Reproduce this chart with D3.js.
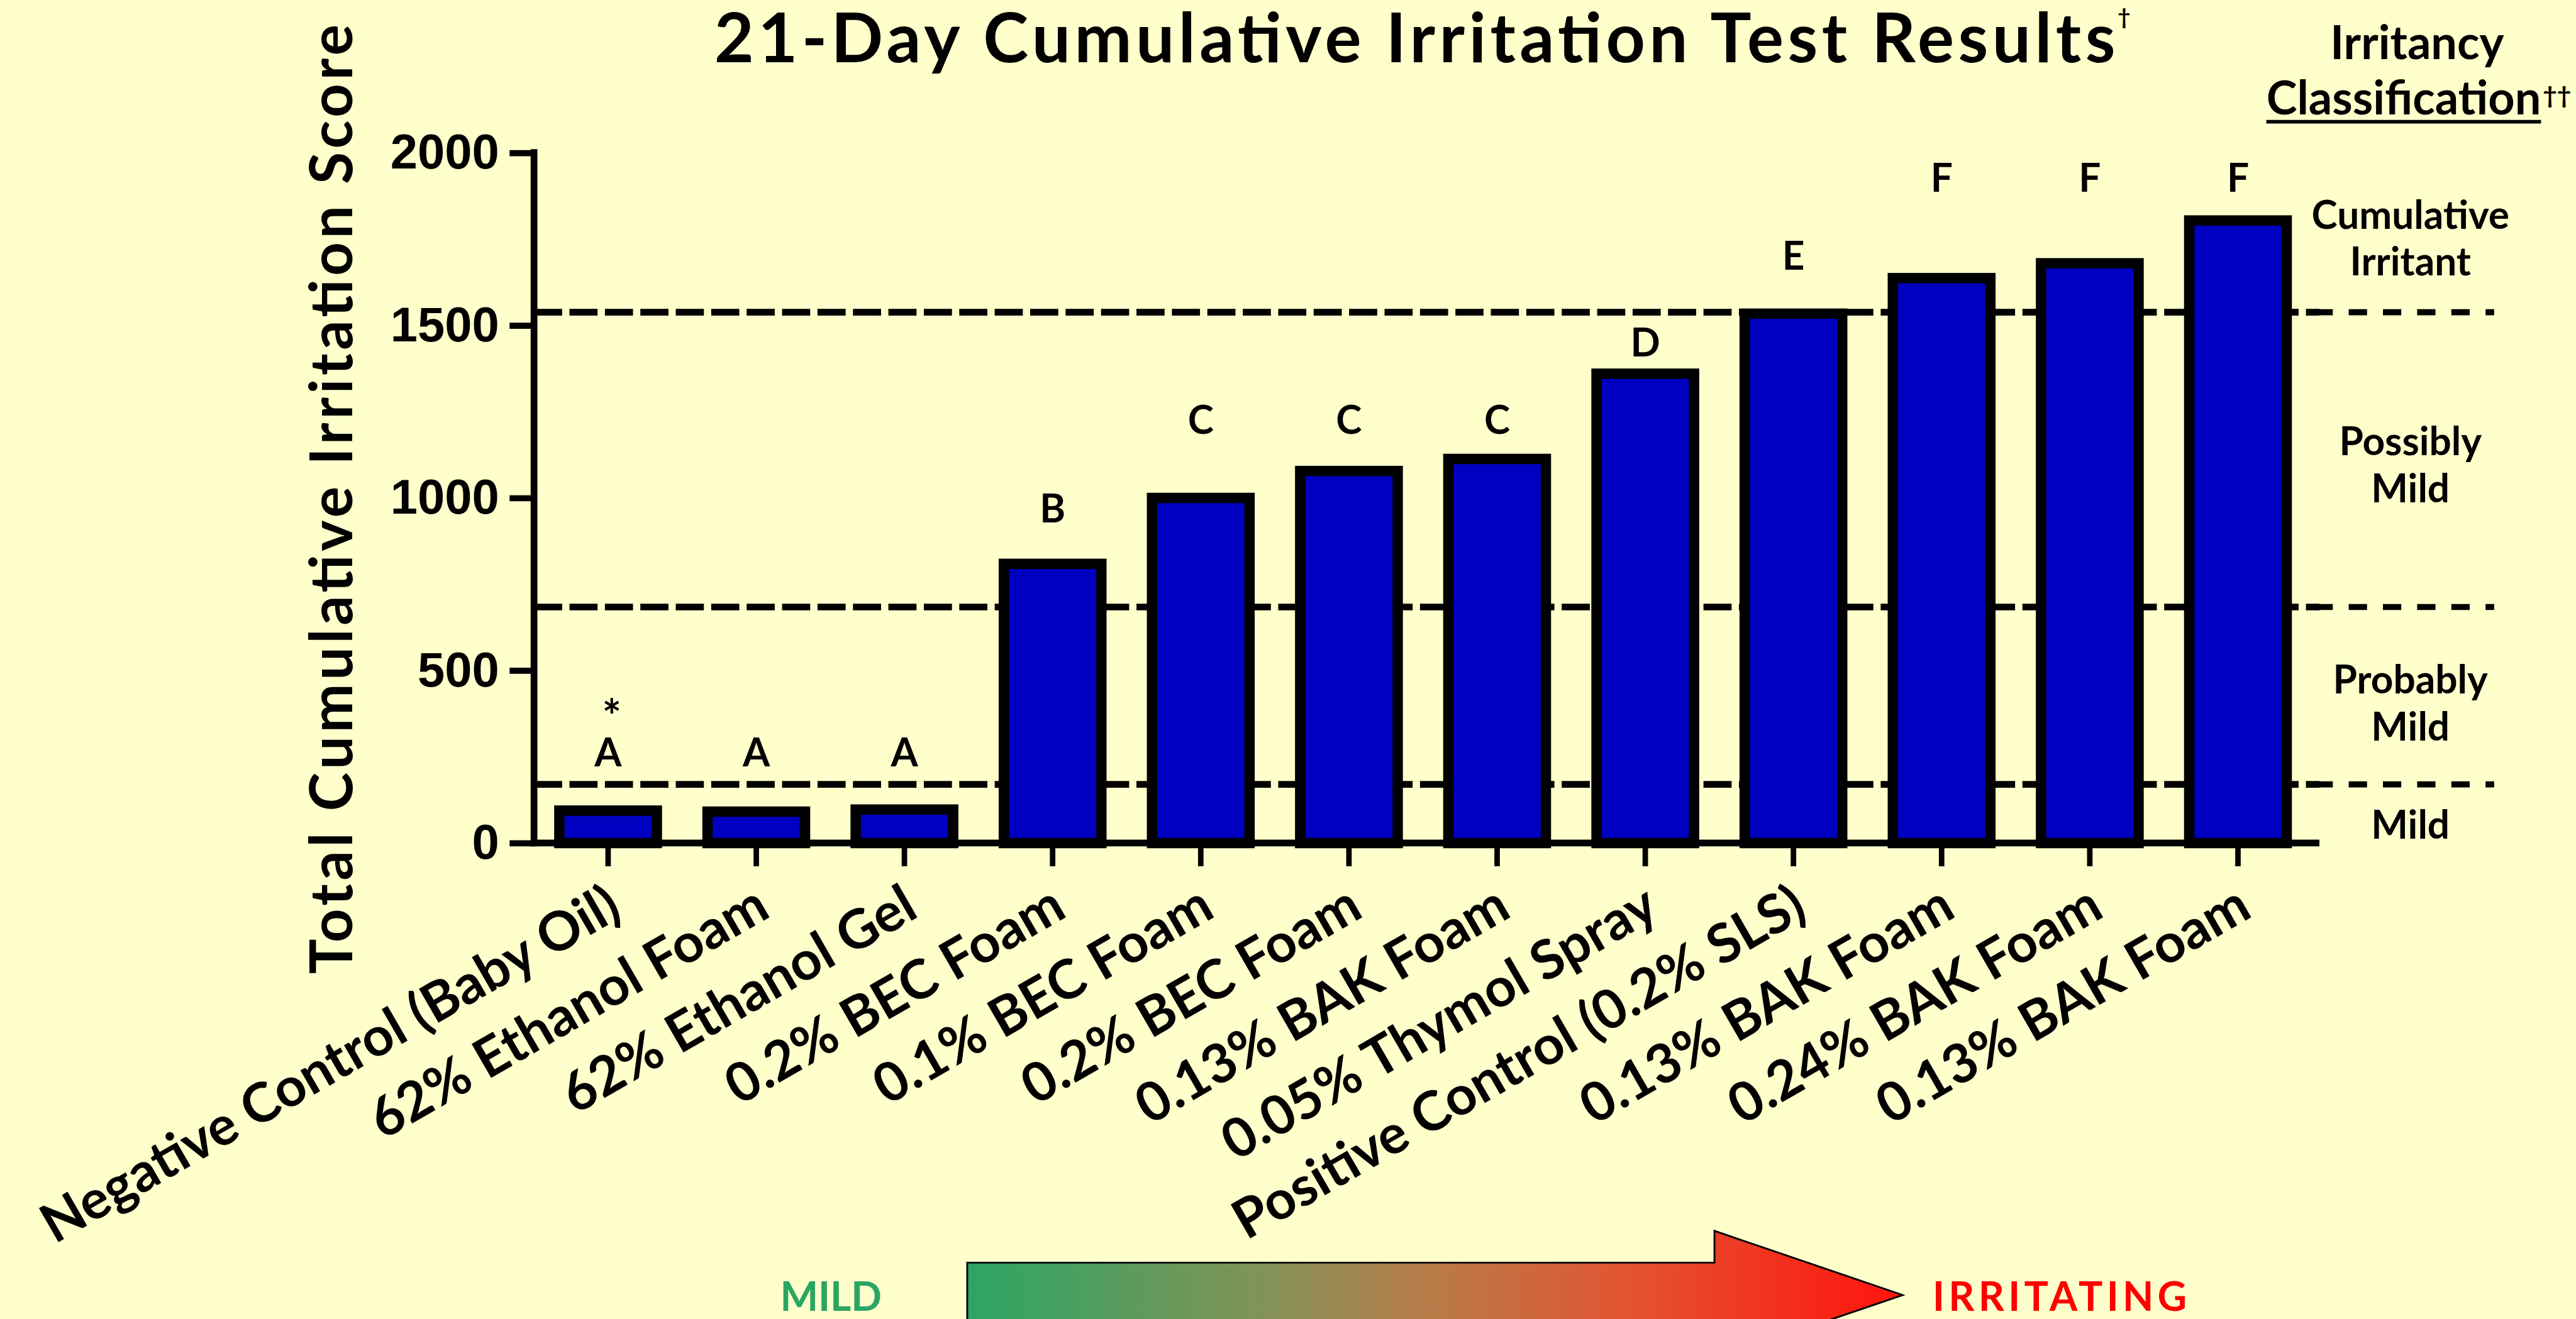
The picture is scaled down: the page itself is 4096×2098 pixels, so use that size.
<!DOCTYPE html>
<html>
<head>
<meta charset="utf-8">
<title>21-Day Cumulative Irritation Test Results</title>
<script src="https://d3js.org/d3.v7.min.js"></script>
<style>
  body { margin: 0; background: #ffffcc; overflow: hidden; }
  text { font-family: Lato, "DejaVu Sans", sans-serif; font-weight: 700; fill: #000; }
  .yaxis text { font-family: "Liberation Sans", Arial, sans-serif; }
</style>
</head>
<body>
<div id="chart"></div>
<script>
  // data
  const products = ["Negative Control (Baby Oil)", "62% Ethanol Foam", "62% Ethanol Gel",
    "0.2% BEC Foam", "0.1% BEC Foam", "0.2% BEC Foam", "0.13% BAK Foam",
    "0.05% Thymol Spray", "Positive Control (0.2% SLS)", "0.13% BAK Foam",
    "0.24% BAK Foam", "0.13% BAK Foam"];
  const scores = [94, 91, 97, 809, 1000, 1078, 1113, 1360, 1534, 1637, 1680, 1804];
  const groups = ["A", "A", "A", "B", "C", "C", "C", "D", "E", "F", "F", "F"];
  const groupNames = ["A", "B", "C", "D", "E", "F"];
  const groupLevels = [223, 929, 1185, 1410, 1662, 1888];
  const marks = ["*", "", "", "", "", "", "", "", "", "", "", ""];
  const markLevel = 318;
  const yTicks = [0, 500, 1000, 1500, 2000];
  const cutoffs = [170, 684, 1538];
  const classes = [["Mild"], ["Probably", "Mild"], ["Possibly", "Mild"], ["Cumulative", "Irritant"]];

  const W = 4216, H = 2159;
  const svg = d3.select("#chart").append("svg")
    .attr("width", 4096).attr("height", 2098)
    .attr("viewBox", `0 0 ${W} ${H}`);

  svg.append("rect").attr("width", W).attr("height", H).attr("fill", "#ffffcc");

  const left = 874, axisEnd = 3796;
  const x = d3.scaleBand().domain(d3.range(products.length))
    .range([left, 3784]).paddingInner(0.342).paddingOuter(0.171);
  const y = d3.scaleLinear().domain([0, 2000]).range([1380, 250]);

  // classification cut-off lines, behind the bars
  svg.append("g").selectAll("line").data(cutoffs).join("line")
    .attr("x1", left).attr("x2", axisEnd)
    .attr("y1", d => y(d)).attr("y2", d => y(d))
    .attr("stroke", "#000").attr("stroke-width", 11)
    .attr("stroke-dasharray", "46 12");
  svg.append("g").selectAll("line").data(cutoffs).join("line")
    .attr("x1", axisEnd - 8).attr("x2", 4082)
    .attr("y1", d => y(d)).attr("y2", d => y(d))
    .attr("stroke", "#000").attr("stroke-width", 10)
    .attr("stroke-dasharray", "30 26");

  // bars
  svg.append("g").selectAll("rect").data(scores).join("rect")
    .attr("x", (d, i) => x(i))
    .attr("width", x.bandwidth())
    .attr("y", d => y(d))
    .attr("height", d => y(0) - y(d))
    .attr("fill", "#0000c0")
    .attr("stroke", "#000")
    .attr("stroke-width", 17);

  // y axis
  const yAxis = svg.append("g").attr("class", "yaxis")
    .attr("transform", `translate(${left},0)`)
    .call(d3.axisLeft(y).tickValues(yTicks).tickFormat(d3.format("d"))
      .tickSize(40).tickPadding(17).tickSizeOuter(0));
  yAxis.attr("font-size", 80);
  yAxis.select(".domain").remove();
  yAxis.selectAll(".tick line").attr("stroke-width", 10);
  yAxis.selectAll(".tick text").attr("font-weight", 700);

  // x axis
  const xAxis = svg.append("g")
    .attr("transform", `translate(0,${y(0)})`)
    .call(d3.axisBottom(x).tickSize(38).tickSizeOuter(0).tickFormat(i => products[i]));
  xAxis.attr("font-size", 70).attr("font-family", null);
  xAxis.select(".domain").remove();
  xAxis.selectAll(".tick line").attr("stroke-width", 9);
  const xLabels = xAxis.selectAll(".tick text")
    .attr("y", null).attr("dy", null)
    .attr("text-anchor", "end")
    .attr("transform", "translate(26,119) rotate(-30)");
  // size the labels so the first one spans what it does in the original
  const firstLen = xLabels.node().getComputedTextLength();
  xAxis.attr("font-size", 70 * 1076 / firstLen);

  svg.append("line").attr("x1", left).attr("x2", left)
    .attr("y1", 244).attr("y2", y(0) + 5.5)
    .attr("stroke", "#000").attr("stroke-width", 11);
  svg.append("line").attr("x1", left - 5.5).attr("x2", axisEnd)
    .attr("y1", y(0)).attr("y2", y(0))
    .attr("stroke", "#000").attr("stroke-width", 11);

  // significance letters
  svg.append("g").selectAll("text").data(groups).join("text")
    .attr("x", (d, i) => x(i) + x.bandwidth() / 2)
    .attr("y", d => y(groupLevels[groupNames.indexOf(d)]))
    .attr("text-anchor", "middle")
    .attr("font-size", 64)
    .text(d => d);
  svg.append("g").selectAll("text").data(marks).join("text")
    .attr("x", (d, i) => x(i) + x.bandwidth() / 2 + 6)
    .attr("y", y(markLevel))
    .attr("text-anchor", "middle")
    .attr("font-size", 74)
    .text(d => d);

  // title
  svg.append("text")
    .attr("x", 1169).attr("y", 102)
    .attr("font-size", 112)
    .attr("textLength", 2293).attr("lengthAdjust", "spacing")
    .text("21-Day Cumulative Irritation Test Results");
  svg.append("text")
    .attr("x", 1169 + 2293 + 4).attr("y", 40)
    .attr("font-size", 36)
    .text("\u2020");

  // y axis title
  svg.append("text")
    .attr("transform", "translate(576,817) rotate(-90)")
    .attr("text-anchor", "middle")
    .attr("font-size", 96)
    .attr("textLength", 1555).attr("lengthAdjust", "spacing")
    .text("Total Cumulative Irritation Score");

  // classification column
  svg.append("text")
    .attr("x", 3956).attr("y", 97)
    .attr("text-anchor", "middle")
    .attr("font-size", 76)
    .text("Irritancy");
  const cls = svg.append("text")
    .attr("x", 3934).attr("y", 187)
    .attr("text-anchor", "middle")
    .attr("font-size", 76)
    .text("Classification");
  const cb = cls.node().getBBox();
  svg.append("line")
    .attr("x1", cb.x).attr("x2", cb.x + cb.width)
    .attr("y1", 199).attr("y2", 199)
    .attr("stroke", "#000").attr("stroke-width", 6);
  svg.append("text")
    .attr("x", cb.x + cb.width + 3).attr("y", 170)
    .attr("font-size", 40)
    .text("\u2020\u2020");

  const classBase = [1373, 1135, 745, 374];
  classes.forEach((lines, k) => {
    svg.append("text")
      .attr("x", 3945).attr("y", classBase[k])
      .attr("text-anchor", "middle")
      .attr("font-size", 64)
      .selectAll("tspan").data(lines).join("tspan")
      .attr("x", 3945)
      .attr("dy", (d, j) => j ? 77 : 0)
      .text(d => d);
  });

  // mild -> irritating arrow
  const grad = svg.append("defs").append("linearGradient")
    .attr("id", "heat").attr("gradientUnits", "userSpaceOnUse")
    .attr("x1", 1583).attr("x2", 3114).attr("y1", 0).attr("y2", 0);
  grad.selectAll("stop")
    .data([[0, "#2ca564"], [0.3, "#7d9458"], [0.5, "#b97a48"], [0.7, "#e15532"], [1, "#ff140c"]])
    .join("stop")
    .attr("offset", d => d[0])
    .attr("stop-color", d => d[1]);

  svg.append("path")
    .attr("d", "M1583,2067 L2806,2067 L2806,2015 L3114,2120 L2806,2225 L2806,2173 L1583,2173 Z")
    .attr("fill", "url(#heat)")
    .attr("stroke", "#000").attr("stroke-width", 3);

  svg.append("text")
    .attr("x", 1360).attr("y", 2146)
    .attr("text-anchor", "middle")
    .attr("font-size", 66)
    .style("fill", "#2aa562")
    .text("MILD");
  svg.append("text")
    .attr("x", 3371).attr("y", 2146)
    .attr("text-anchor", "middle")
    .attr("font-size", 66)
    .attr("textLength", 416).attr("lengthAdjust", "spacing")
    .style("fill", "#ff0000")
    .text("IRRITATING");
</script>
</body>
</html>
